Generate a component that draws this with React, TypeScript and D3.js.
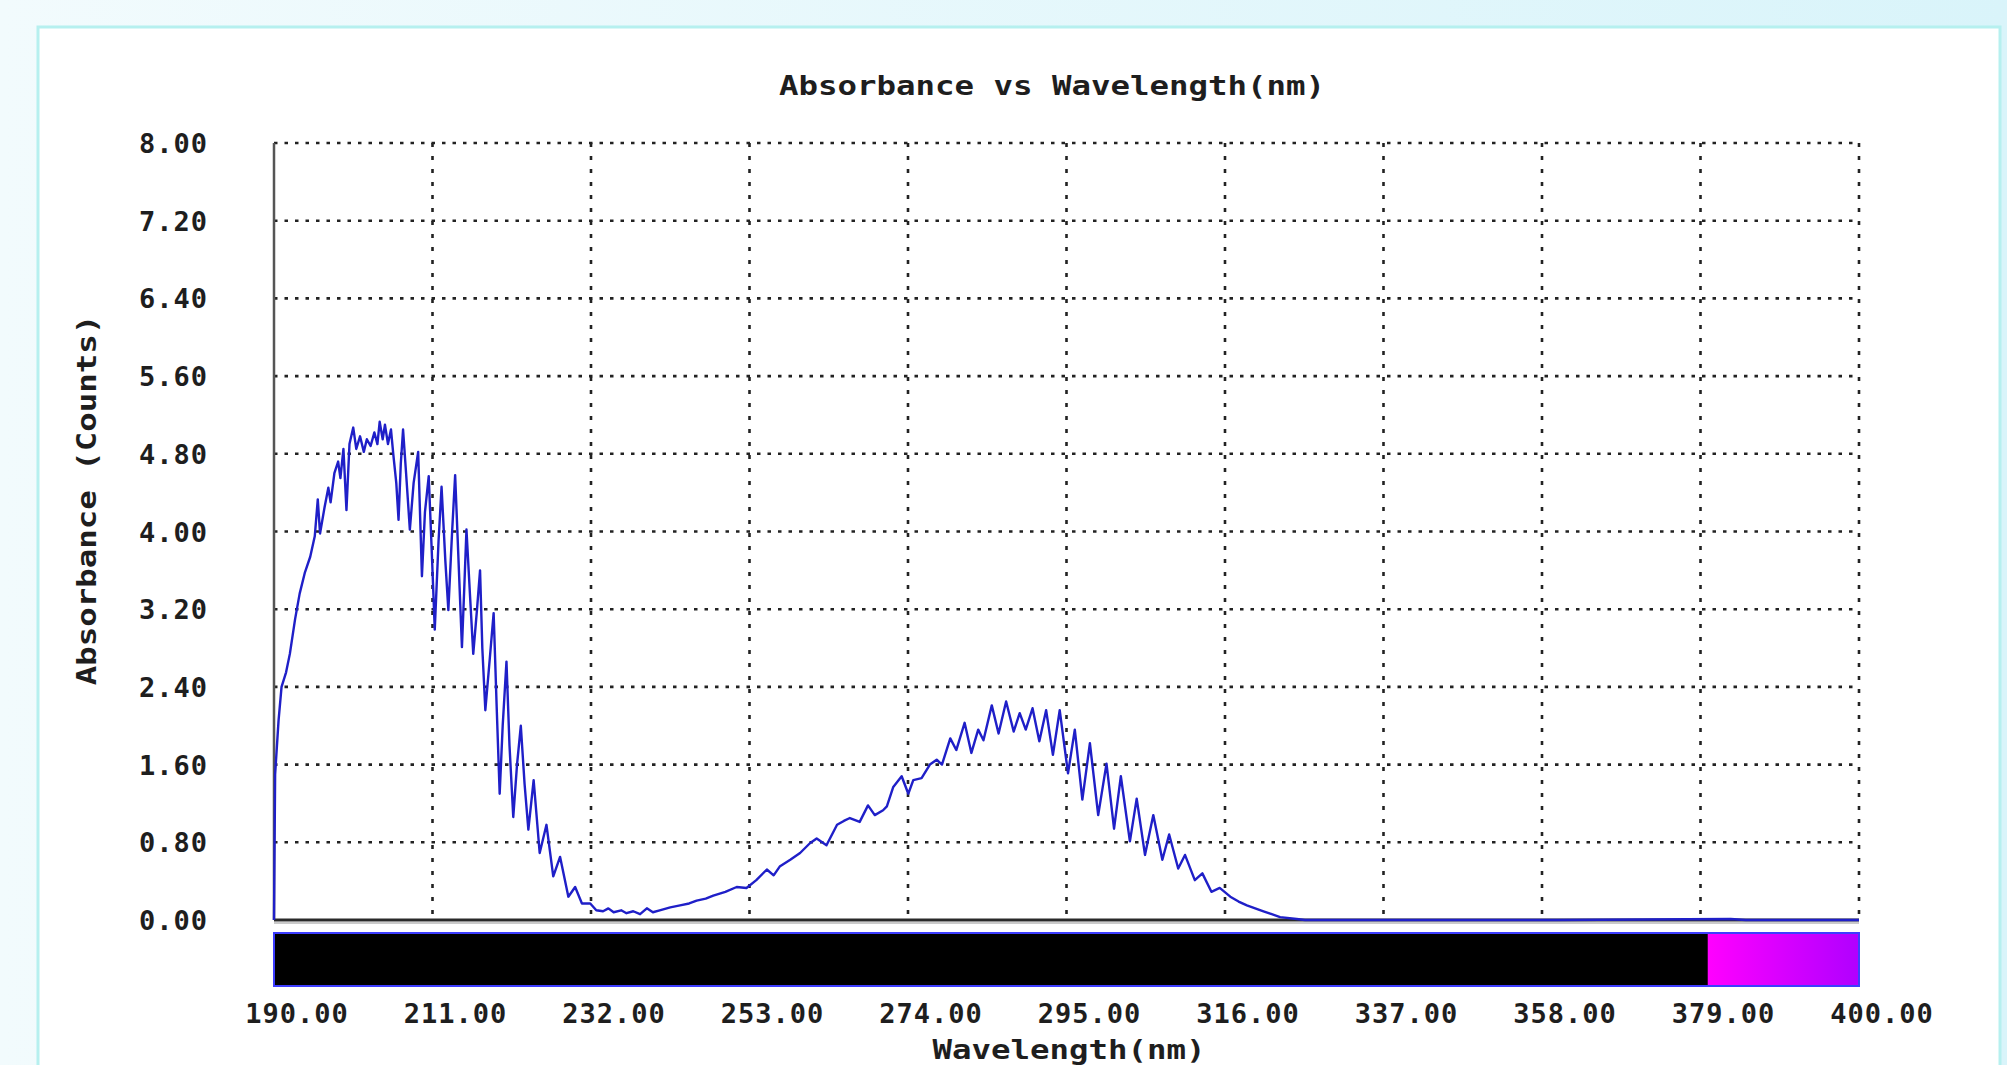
import React from 'react';
import * as d3 from 'd3';

// spectrum (nm, absorbance)
const wavelengths = [
  190.0, 190.15, 190.6, 191.0, 191.6, 192.1, 192.8, 193.4, 194.1, 194.8,
  195.4, 195.8, 196.1, 196.7, 197.2, 197.5, 198.0, 198.5, 198.8, 199.2,
  199.6, 200.0, 200.5, 200.9, 201.4, 201.9, 202.3, 202.8, 203.3, 203.7,
  204.0, 204.4, 204.7, 205.1, 205.5, 205.8, 206.2, 206.5, 206.8, 207.1,
  207.5, 208.0, 208.5, 209.1, 209.6, 210.0, 210.5, 210.9, 211.3, 211.8,
  212.2, 212.7, 213.1, 213.6, 214.0, 214.5, 214.9, 215.2, 215.5, 216.0,
  216.4, 216.9, 217.3, 217.6, 218.0, 218.6, 219.1, 219.5, 219.9, 220.3,
  220.8, 221.2, 221.7, 222.2, 222.7, 223.2, 223.7, 224.4, 225.2, 226.1,
  227.0, 227.9, 229.0, 229.9, 230.8, 231.9, 232.7, 233.6, 234.3, 235.0,
  236.0, 236.7, 237.6, 238.5, 239.4, 240.2, 241.1, 242.5, 243.8, 245.0,
  246.0, 247.2, 248.2, 249.8, 251.3, 252.6, 253.9, 255.3, 256.2, 257.0,
  258.4, 259.7, 261.0, 261.9, 263.2, 264.6, 265.5, 266.3, 267.6, 268.7,
  269.6, 270.7, 271.2, 272.05, 273.16, 274.04, 274.7, 275.8, 276.9, 277.8,
  278.5, 279.6, 280.4, 281.5, 282.4, 283.3, 284.0, 285.1, 286.0, 287.0,
  288.0, 288.8, 289.6, 290.5, 291.4, 292.3, 293.2, 294.1, 295.2, 296.1,
  297.1, 298.1, 299.2, 300.3, 301.3, 302.2, 303.4, 304.3, 305.4, 306.5,
  307.7, 308.6, 309.8, 310.7, 312.0, 313.0, 314.2, 315.3, 316.7, 317.8,
  318.9, 320.0, 321.1, 323.3, 325.5, 326.6, 360.0, 383.0, 385.0, 400.0,
];

const absorbance = [
  0.0, 1.5, 2.05, 2.4, 2.55, 2.74, 3.1, 3.36, 3.58, 3.74,
  3.95, 4.33, 3.98, 4.25, 4.45, 4.3, 4.6, 4.72, 4.55, 4.85,
  4.22, 4.9, 5.07, 4.85, 4.98, 4.82, 4.95, 4.88, 5.02, 4.9,
  5.13, 4.95, 5.1, 4.9, 5.05, 4.8, 4.5, 4.12, 4.7, 5.05,
  4.6, 4.02, 4.5, 4.82, 3.54, 4.2, 4.57, 3.8, 2.99, 3.9,
  4.46, 3.7, 3.19, 4.0, 4.58, 3.6, 2.81, 3.4, 4.02, 3.3,
  2.74, 3.2, 3.6, 2.8, 2.16, 2.7, 3.16, 2.2, 1.3, 2.0,
  2.66, 1.8, 1.06, 1.6, 2.0, 1.4, 0.93, 1.44, 0.69, 0.98,
  0.45, 0.65, 0.24, 0.34, 0.17, 0.17, 0.1, 0.09, 0.12, 0.08,
  0.1, 0.07, 0.09, 0.06, 0.12, 0.08, 0.1, 0.13, 0.15, 0.17,
  0.2, 0.22, 0.25, 0.29, 0.34, 0.33, 0.41, 0.52, 0.46, 0.55,
  0.62, 0.69, 0.79, 0.84, 0.77, 0.98, 1.02, 1.05, 1.01, 1.18,
  1.08, 1.13, 1.17, 1.37, 1.48, 1.3, 1.44, 1.46, 1.6, 1.65,
  1.6, 1.87, 1.75, 2.03, 1.72, 1.96, 1.85, 2.21, 1.92, 2.25,
  1.94, 2.13, 1.96, 2.18, 1.84, 2.16, 1.7, 2.16, 1.51, 1.96,
  1.24, 1.82, 1.08, 1.61, 0.94, 1.48, 0.81, 1.25, 0.67, 1.08,
  0.62, 0.88, 0.53, 0.67, 0.41, 0.48, 0.29, 0.33, 0.24, 0.19,
  0.15, 0.12, 0.09, 0.03, 0.01, 0.0, 0.0, 0.01, 0.0, 0.0,
];

const xTicks = [190, 211, 232, 253, 274, 295, 316, 337, 358, 379, 400];
const yTicks = [0, 0.8, 1.6, 2.4, 3.2, 4.0, 4.8, 5.6, 6.4, 7.2, 8.0];

// colour strip under the axis
const barStops = [
  { nm: 190, color: '#000000' },
  { nm: 379.9, color: '#000000' },
  { nm: 380, color: '#ff00ff' },
  { nm: 400, color: '#b000ff' },
];

const W = 2007;
const H = 1065;
const font = '"DejaVu Sans Mono", monospace';
const ink = '#1e1e1e';

export default function App() {
  const x = d3.scaleLinear().domain([190, 400]).range([274, 1859]);
  const y = d3.scaleLinear().domain([0, 8]).range([920, 143]);
  const fmt = d3.format('.2f');

  const points = wavelengths.map((w, i) => [w, absorbance[i]] as [number, number]);
  const line = d3
    .line<[number, number]>()
    .x(d => x(d[0]))
    .y(d => y(d[1]));

  const [x0, x1] = x.range();
  const [yb, yt] = y.range();
  const barTop = 933;
  const barBottom = 986;

  return (
    <svg
      width={W}
      height={H}
      viewBox={`0 0 ${W} ${H}`}
      style={{ position: 'absolute', left: 0, top: 0 }}
    >
      <defs>
        <linearGradient id="page" x1="0" x2="1" y1="0" y2="0">
          <stop offset="0" stopColor="#f2fbfd" />
          <stop offset="1" stopColor="#d9f4fa" />
        </linearGradient>
        <linearGradient id="bar" gradientUnits="userSpaceOnUse" x1={x0} x2={x1} y1="0" y2="0">
          {barStops.map((s, i) => (
            <stop key={i} offset={(x(s.nm) - x0) / (x1 - x0)} stopColor={s.color} />
          ))}
        </linearGradient>
      </defs>

      <rect x={0} y={0} width={W} height={H} fill="url(#page)" />
      <rect x={38} y={27} width={1962} height={1100} fill="#ffffff" stroke="#b6f0ef" strokeWidth={3} />

      <text
        transform="translate(1052,95) scale(1.2,1)"
        textAnchor="middle"
        fontFamily={font}
        fontWeight="bold"
        fontSize={27}
        fill={ink}
      >
        Absorbance vs Wavelength(nm)
      </text>

      {/* grid */}
      <g stroke="#222" strokeWidth={2.6} fill="none">
        {yTicks.filter(t => t > 0).map(t => (
          <line key={`h${t}`} x1={x0} x2={x1} y1={y(t)} y2={y(t)} strokeDasharray="3.5 7" />
        ))}
        {xTicks.filter(t => t > 190).map(t => (
          <line key={`v${t}`} x1={x(t)} x2={x(t)} y1={yt} y2={yb} strokeDasharray="4 9" />
        ))}
      </g>

      {/* axes */}
      <line x1={x0} x2={x0} y1={yt} y2={yb} stroke="#555" strokeWidth={2.5} />
      <line x1={x0} x2={x1} y1={yb} y2={yb} stroke="#2a2a2a" strokeWidth={3} />
      <line x1={x0} x2={x1} y1={yb + 3} y2={yb + 3} stroke="#b8b8b8" strokeWidth={1.5} />

      {/* colour strip */}
      <rect
        x={x0}
        y={barTop}
        width={x1 - x0}
        height={barBottom - barTop}
        fill="url(#bar)"
        stroke="#3d3dff"
        strokeWidth={2}
      />

      {/* spectrum */}
      <path
        d={line(points) ?? ''}
        fill="none"
        stroke="#1f1fc8"
        strokeWidth={2.4}
        strokeLinejoin="round"
      />

      {/* tick labels */}
      <g fontFamily={font} fontWeight="bold" fontSize={27} fill={ink}>
        {yTicks.map(t => (
          <text key={`yl${t}`} x={208} y={y(t) + 10} textAnchor="end" letterSpacing={1}>
            {fmt(t)}
          </text>
        ))}
        {xTicks.map(t => (
          <text key={`xl${t}`} x={x(t) + 23} y={1023} textAnchor="middle" letterSpacing={1}>
            {fmt(t)}
          </text>
        ))}
      </g>

      <text
        transform="translate(1069,1059) scale(1.2,1)"
        textAnchor="middle"
        fontFamily={font}
        fontWeight="bold"
        fontSize={27}
        fill={ink}
      >
        Wavelength(nm)
      </text>

      <text
        transform="translate(96,500) rotate(-90) scale(1.2,1)"
        textAnchor="middle"
        fontFamily={font}
        fontWeight="bold"
        fontSize={27}
        fill={ink}
      >
        Absorbance (Counts)
      </text>
    </svg>
  );
}
